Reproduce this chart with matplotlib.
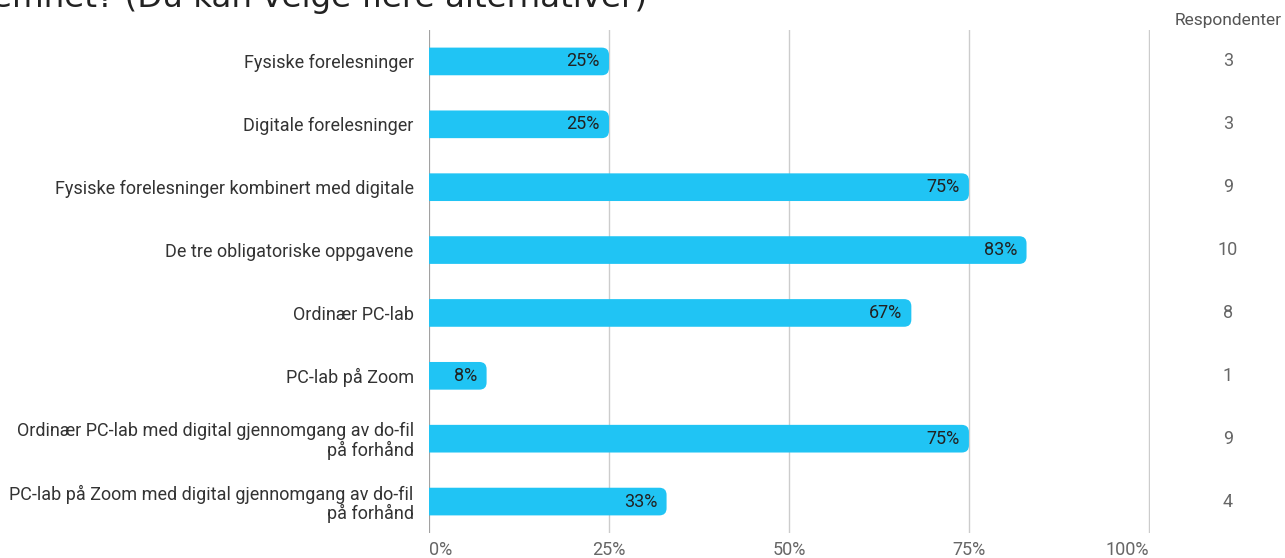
import matplotlib.pyplot as plt
from matplotlib.patches import FancyBboxPatch

plt.rcParams['font.family'] = ['Roboto', 'DejaVu Sans']

title = 'emnet? (Du kan velge flere alternativer)'
categories = [
    'Fysiske forelesninger',
    'Digitale forelesninger',
    'Fysiske forelesninger kombinert med digitale',
    'De tre obligatoriske oppgavene',
    'Ordinær PC-lab',
    'PC-lab på Zoom',
    'Ordinær PC-lab med digital gjennomgang av do-fil\npå forhånd',
    'PC-lab på Zoom med digital gjennomgang av do-fil\npå forhånd',
]
percent = [25, 25, 75, 83, 67, 8, 75, 33]
respondents = [3, 3, 9, 10, 8, 1, 9, 4]
xticks = [0, 25, 50, 75, 100]
xticklabels = ['0%', '25%', '50%', '75%', '100%']

bar_color = '#20C4F4'
W, H = 1285, 558

fig = plt.figure(figsize=(W / 100, H / 100), dpi=100)
ax = fig.add_axes([429 / W, 25 / H, (1150 - 429) / W, 503 / H])

y = list(range(len(categories)))
h = 0.44
# aspect so the rounded ends look round (px per unit: x 7.21, y 62.9)
aspect = 7.21 / 62.9
for yi, v in zip(y, percent):
    # start left of 0 so the left corners get clipped away -> square left end
    patch = FancyBboxPatch((-2, yi - h / 2), v + 2, h,
                           boxstyle='round,pad=0,rounding_size=1.0',
                           mutation_aspect=aspect, fc=bar_color, ec='none', zorder=3)
    ax.add_patch(patch)
    ax.text(v - 1.3, yi, f'{v}%', ha='right', va='center', fontsize=13,
            color='#222222', zorder=4)

ax.set_xlim(0, 100.15)
ax.set_ylim(len(categories) - 0.5, -0.5)
ax.set_xticks(xticks)
ax.set_xticklabels(xticklabels, color='#666666', fontsize=13)
labs = ax.get_xticklabels()
labs[0].set_ha('left')
labs[-1].set_ha('right')
ax.set_yticks(y)
ax.set_yticklabels(categories, color='#333333', fontsize=13, linespacing=1.03)
ax.tick_params(length=0)
ax.tick_params(axis='x', pad=5.5)
ax.tick_params(axis='y', pad=11)
for s in ax.spines.values():
    s.set_visible(False)
ax.grid(axis='x', color='#cccccc', linewidth=1, zorder=0)
ax.axvline(0, color='#999999', linewidth=1.2, zorder=2)
ax.set_axisbelow(True)

# respondent counts column on the right
col_x = (1228 - 429) / (1150 - 429)
tr = ax.get_yaxis_transform()
for yi, n in zip(y, respondents):
    ax.text(col_x, yi, str(n), transform=tr, ha='center', va='center',
            fontsize=13, color='#666666', clip_on=False)
ax.text(col_x, 1 + 10 / 503, 'Respondenter', transform=ax.transAxes,
        ha='center', va='center', fontsize=12.5, color='#555555', clip_on=False)

# title, cut off at the top edge like in the screenshot
fig.text(-8 / W, 1 - 7 / H, title, ha='left', va='baseline', fontsize=23.4,
         family='DejaVu Sans', color='#222222')

plt.savefig('out.png', dpi=100)
